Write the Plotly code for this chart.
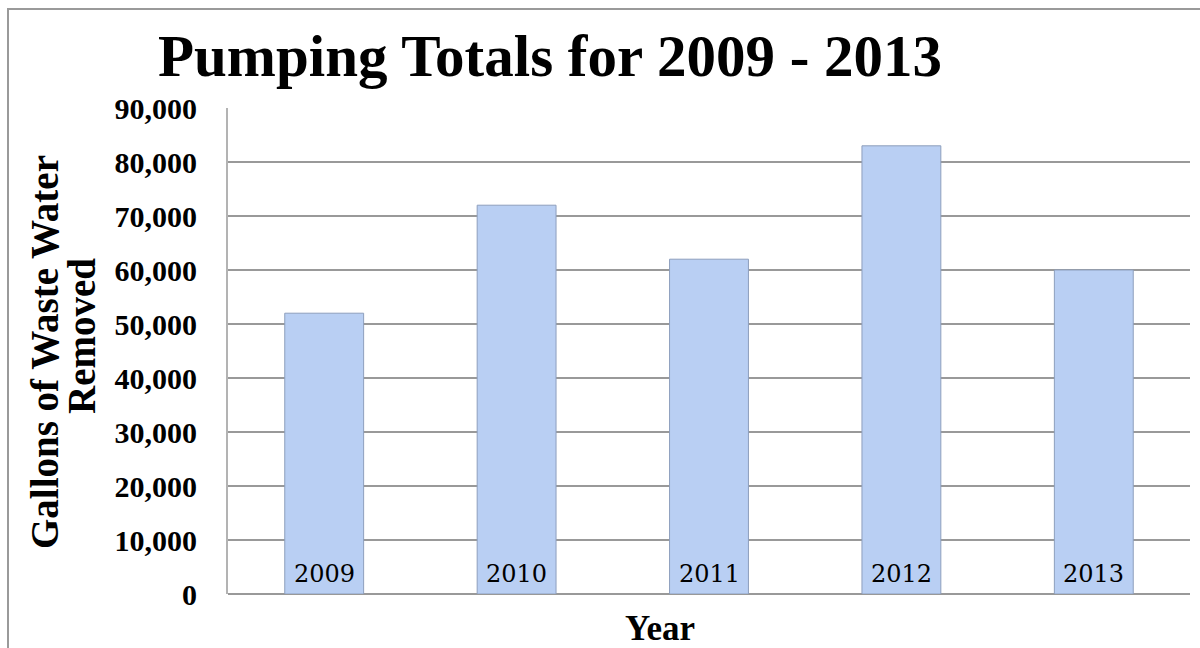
import plotly.graph_objects as go

years = ["2009", "2010", "2011", "2012", "2013"]
gallons = [52000, 72000, 62000, 83000, 60000]
y_ticks = [0, 10000, 20000, 30000, 40000, 50000, 60000, 70000, 80000, 90000]

W, H = 1200, 648
L, R, T, B = 228, 10, 108, 54
pw = W - L - R
ph = H - T - B

fig = go.Figure()
fig.add_trace(go.Bar(
    x=years, y=gallons,
    marker=dict(color="#b9cff3", line=dict(color="#8d9fbd", width=1)),
    width=0.41,
    showlegend=False,
))

# category labels drawn inside the plot just above the axis (x given as category index)
for i, yr in enumerate(years):
    fig.add_annotation(x=i, y=0, xref="x", yref="y", text=yr, showarrow=False,
                       yanchor="bottom", yshift=4,
                       font=dict(family="DejaVu Serif", size=24, color="black"))

fig.add_annotation(xref="paper", yref="paper", x=(44 - L) / pw, y=(H - B - 352) / ph,
                   text="<b>Gallons of Waste Water</b>", textangle=-90,
                   showarrow=False, xanchor="center", yanchor="middle",
                   font=dict(family="Liberation Serif", size=39, color="black"))
fig.add_annotation(xref="paper", yref="paper", x=(81 - L) / pw, y=(H - B - 336) / ph,
                   text="<b>Removed</b>", textangle=-90,
                   showarrow=False, xanchor="center", yanchor="middle",
                   font=dict(family="Liberation Serif", size=39, color="black"))

fig.add_annotation(xref="paper", yref="paper", x=(660 - L) / pw, y=(H - B - 628) / ph,
                   text="<b>Year</b>", showarrow=False, xanchor="center", yanchor="middle",
                   font=dict(family="Liberation Serif", size=35, color="black"))

fig.update_layout(
    width=W, height=H,
    margin=dict(l=L, r=R, t=T, b=B),
    paper_bgcolor="white", plot_bgcolor="white",
    font=dict(family="Liberation Serif", color="black"),
    title=dict(text="<b>Pumping Totals for 2009 - 2013</b>",
               font=dict(size=59, family="Liberation Serif", color="black"),
               x=550 / W, xanchor="center", xref="container",
               y=1 - 55 / H, yanchor="middle", yref="container"),
    xaxis=dict(
        type="category",
        categoryorder="array", categoryarray=years,
        range=[-0.5, len(years) - 0.5],
        showticklabels=False,
        ticks="", showline=False, showgrid=False,
    ),
    yaxis=dict(
        range=[0, 90000],
        tickvals=y_ticks,
        tickformat=",d",
        tickfont=dict(family="Liberation Serif", size=30, color="black", weight="bold"),
        ticks="", ticklabelstandoff=23,
        showgrid=True, gridcolor="#999999", gridwidth=2,
        zeroline=True, zerolinecolor="#999999", zerolinewidth=2,
        showline=True, linecolor="#b3b3b3", linewidth=2,
    ),
    shapes=[dict(type="rect", xref="paper", yref="paper",
                 x0=(8 - L) / pw, x1=(1260 - L) / pw,
                 y0=(H - B - 700) / ph, y1=(H - B - 9) / ph,
                 line=dict(color="#9a9a9a", width=2), fillcolor="rgba(0,0,0,0)",
                 layer="below")],
)

fig.write_html("out.html")
